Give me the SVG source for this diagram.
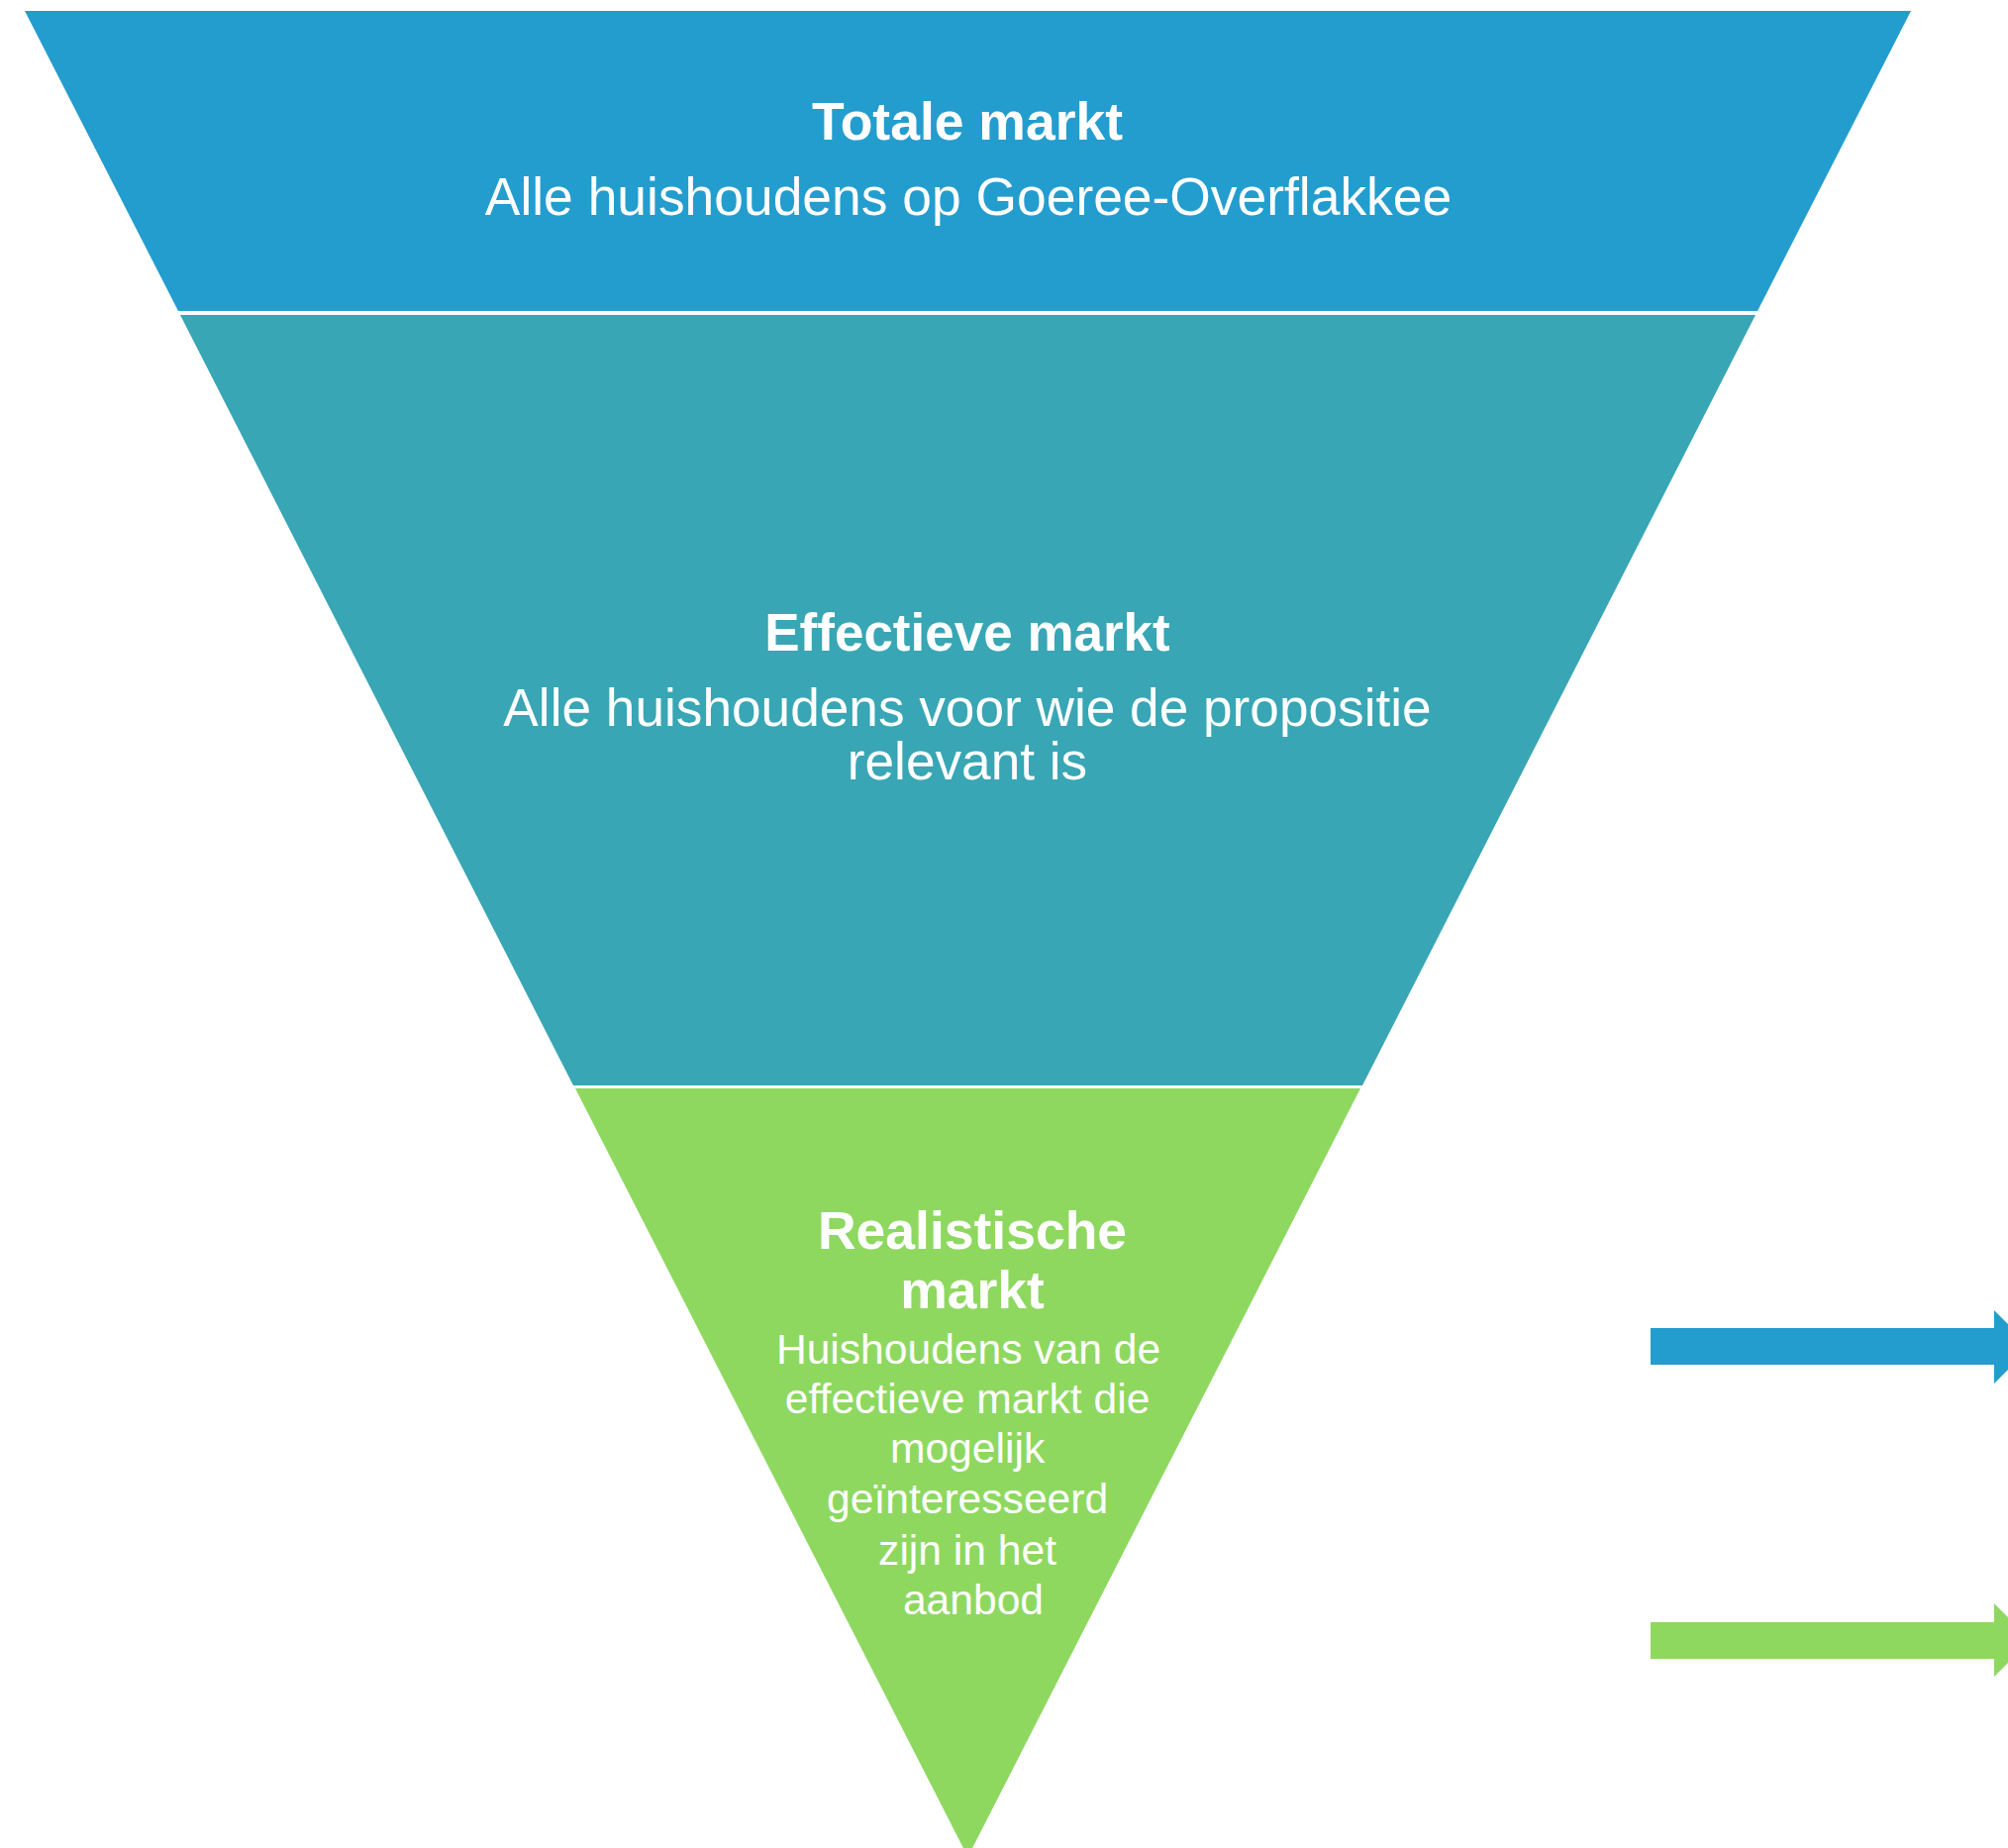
<svg xmlns="http://www.w3.org/2000/svg" width="2028" height="1866" viewBox="0 0 2028 1866">
  <style>
    .t { font-family: "Liberation Sans", Arial, sans-serif; fill: #ffffff; text-anchor: middle; }
    .b { font-weight: bold; }
    .blue { fill: #239DCE; }
    .teal { fill: #38A6B4; }
    .green { fill: #8ED860; }
  </style>
  <rect width="2028" height="1866" fill="#ffffff"/>
  <g id="totale-markt">
    <polygon class="blue" points="25,11 1930,11 1775,314 180,314"/>
    <text class="t b" x="977" y="141" font-size="53.5">Totale markt</text>
    <text class="t" x="978" y="217" font-size="53.4">Alle huishoudens op Goeree-Overflakkee</text>
  </g>
  <g id="effectieve-markt">
    <polygon class="teal" points="182,318 1773,318 1376,1096 579,1096"/>
    <text class="t b" x="977" y="657" font-size="53">Effectieve markt</text>
    <text class="t" x="977" y="733" font-size="53.2">Alle huishoudens voor wie de propositie</text>
    <text class="t" x="977" y="787" font-size="53.2">relevant is</text>
  </g>
  <g id="realistische-markt">
    <polygon class="green" points="581,1099 1374,1099 977.5,1875"/>
    <text class="t b" x="982" y="1261" font-size="53.5">Realistische</text>
    <text class="t b" x="982" y="1321" font-size="53.5">markt</text>
    <text class="t" font-size="42.6" x="983">
      <tspan x="984" y="1377">Huishoudens van de</tspan>
      <tspan x="983" y="1427">effectieve markt die</tspan>
      <tspan x="983" y="1477">mogelijk</tspan>
      <tspan x="983" y="1528">geïnteresseerd</tspan>
      <tspan x="983" y="1580">zijn in het</tspan>
      <tspan x="983" y="1630">aanbod</tspan>
    </text>
  </g>
  <g id="connectors">
    <polygon class="blue" points="1667,1341 2014,1341 2014,1323 2051,1360 2014,1397 2014,1378 1667,1378"/>
    <polygon class="green" points="1667,1638 2014,1638 2014,1619 2051,1656 2014,1693 2014,1675 1667,1675"/>
  </g>
</svg>
